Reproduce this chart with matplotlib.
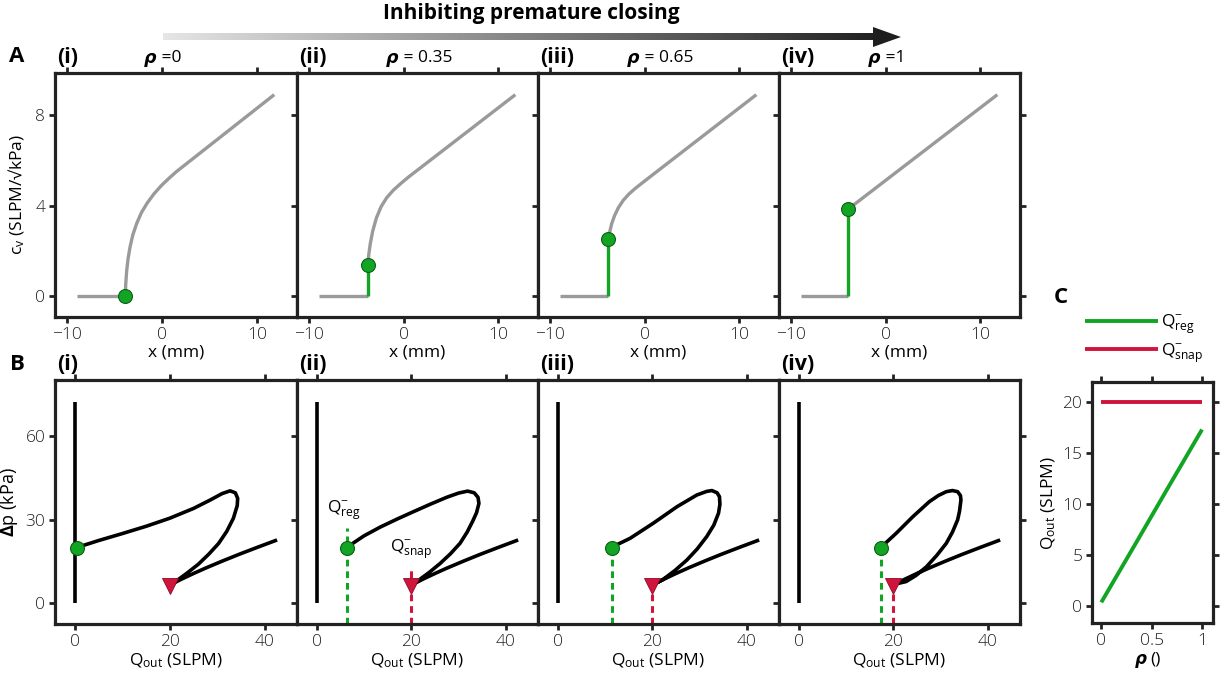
import numpy as np
import matplotlib
matplotlib.use("Agg")
import matplotlib.pyplot as plt
from matplotlib.patches import Polygon
from matplotlib.transforms import blended_transform_factory

FONT = "Open Sans"
plt.rcParams["font.family"] = [FONT, "DejaVu Sans"]
plt.rcParams["mathtext.fontset"] = "custom"
plt.rcParams["mathtext.rm"] = FONT
plt.rcParams["mathtext.it"] = FONT + ":italic"
plt.rcParams["mathtext.bf"] = FONT + ":bold"
plt.rcParams["mathtext.fallback"] = "stixsans"

# ---------------- data ----------------
rho_values = [0, 0.35, 0.65, 1]
rho_texts = [" =0", " = 0.35", " = 0.65", " =1"]
panel_tags = ["(i)", "(ii)", "(iii)", "(iv)"]

# (A) valve coefficient c_v versus plunger displacement x
x_flat_start = -9.0
x_close = [-3.9, -3.8, -3.85, -3.95]
cv_close = [0.0, 1.37, 2.5, 3.85]

cv_x_i = [-3.9, -3.85, -3.75, -3.6, -3.4, -3.1, -2.7, -2.2, -1.6, -0.9, -0.1, 0.7, 1.5, 11.8]
cv_y_i = [0.0, 0.5, 1.1, 1.65, 2.15, 2.7, 3.2, 3.68, 4.1, 4.5, 4.88, 5.2, 5.5, 8.9]
cv_x_ii = [-3.8, -3.7, -3.55, -3.3, -2.9, -2.4, -1.8, -1.1, -0.3, 0.5, 11.8]
cv_y_ii = [1.37, 1.85, 2.3, 2.85, 3.45, 3.95, 4.35, 4.68, 4.98, 5.26, 8.9]
cv_x_iii = [-3.85, -3.7, -3.5, -3.2, -2.8, -2.3, -1.7, -1.0, -0.3, 0.5, 11.8]
cv_y_iii = [2.5, 2.85, 3.2, 3.55, 3.9, 4.22, 4.5, 4.76, 4.99, 5.25, 8.9]
cv_x_iv = [-3.95, 11.8]
cv_y_iv = [3.85, 8.9]

# (B) pressure drop versus outlet flow
q_closed = [0, 0]
dp_closed = [0, 72]

q_reg = [0.4, 6.3, 11.4, 17.3]
dp_reg = [20, 20, 20, 20]
q_snap = [20, 20, 20, 20]
dp_snap = [6.3, 6.3, 6.3, 6.3]

q_i = [0.4, 5, 10, 15, 20, 25, 28.5, 31, 32.7, 33.8, 34.3, 34.2, 33.4, 32.0, 30.3, 28.2, 26.0, 23.6, 21.6, 20.4]
dp_i = [20, 22.5, 25, 27.6, 30.5, 34.0, 37.0, 39.3, 40.3, 39.6, 37.6, 35.0, 30.5, 25.8, 21.5, 17.6, 14.0, 10.8, 8.3, 6.9]
q_ii = [6.3, 10, 13.4, 17, 20.4, 24, 27.5, 30, 31.9, 33.3, 34.1, 34.3, 33.8, 33.0, 31.8, 30.3, 28.3, 26.1, 23.8, 21.8, 20.4]
dp_ii = [20, 24.2, 27.3, 30.2, 32.8, 35.5, 38, 39.5, 40.2, 39.6, 38, 35.8, 32.5, 29.5, 25.5, 21.5, 17.8, 14.3, 11.1, 8.6, 6.9]
q_iii = [11.4, 15.3, 20.2, 25.2, 29.4, 31.5, 32.6, 33.7, 34.2, 34.3, 34.0, 33.0, 31.5, 29.5, 27.3, 24.8, 22.3, 20.4]
dp_iii = [20.1, 23.3, 28.7, 34.6, 38.8, 40.1, 40.4, 39.6, 38.2, 35.5, 32.3, 28, 23.9, 19.5, 15.5, 11.8, 8.6, 6.9]
q_iv = [17.4, 20.6, 24.1, 27.6, 29.5, 31.2, 32.5, 33.6, 34.2, 34.3, 34.0, 33.6, 32.5, 31.2, 29.2, 27.0, 24.8, 22.7, 20.4]
dp_iv = [20.1, 25.1, 31, 36.4, 38.6, 40, 40.4, 40, 38.6, 37, 33, 29.9, 25.5, 21.5, 17.2, 13.1, 10, 7.8, 6.9]

q_low = [20.4, 22.5, 25, 27.5, 31, 34.5, 38.5, 42.6]
dp_low = [6.9, 8.7, 10.7, 12.6, 15.1, 17.5, 20.1, 22.7]

# (C) regulation and snap-through flows versus rho
q_reg_c = q_reg
q_snap_c = q_snap

# ---------------- style ----------------
GRAY = "#9a9a9a"
GREEN = "#12a524"
GREEN_EDGE = "#0b5e14"
RED = "#d0143c"
SPINE = "#222222"
TICK_FS = 12.5
LABEL_FS = 12.5

W, H = 1231, 677
fig = plt.figure(figsize=(W / 100, H / 100), dpi=100)


def px_axes(left, top, right, bottom, **kw):
    return fig.add_axes([left / W, 1 - bottom / H, (right - left) / W, (bottom - top) / H], **kw)


def style(ax):
    for s in ax.spines.values():
        s.set_linewidth(2.3)
        s.set_color(SPINE)
    ax.tick_params(direction="out", length=4, width=2, color=SPINE,
                   top=True, right=True, labeltop=False, labelright=False,
                   labelsize=TICK_FS, pad=3, labelcolor="#222")
    for lab in ax.get_xticklabels() + ax.get_yticklabels():
        lab.set_fontweight("light")


lefts = [55, 297, 538, 779]
rights = [297, 538, 779, 1020]

cv_curves = [(cv_x_i, cv_y_i), (cv_x_ii, cv_y_ii), (cv_x_iii, cv_y_iii), (cv_x_iv, cv_y_iv)]
dp_curves = [(q_i, dp_i), (q_ii, dp_ii), (q_iii, dp_iii), (q_iv, dp_iv)]

for k in range(4):
    # ---------- row A ----------
    ax = px_axes(lefts[k], 73, rights[k], 317)
    ax.set_xlim(-11.3, 14.2)
    ax.set_ylim(-0.93, 9.86)
    ax.set_xticks([-10, 0, 10])
    ax.set_yticks([0, 4, 8])
    if k > 0:
        ax.set_yticklabels([])
    style(ax)
    ax.plot([x_flat_start, x_close[k]], [0, 0], color=GRAY, lw=2.4, solid_capstyle="butt")
    cx, cy = cv_curves[k]
    ax.plot(cx, cy, color=GRAY, lw=2.4, solid_capstyle="butt", solid_joinstyle="round")
    if cv_close[k] > 0:
        ax.plot([x_close[k], x_close[k]], [0, cv_close[k]], color=GREEN, lw=2.4,
                solid_capstyle="butt")
    ax.plot([x_close[k]], [cv_close[k]], "o", ms=10, mfc=GREEN, mec=GREEN_EDGE, mew=0.8, zorder=5)
    ax.set_xlabel("x (mm)", fontsize=LABEL_FS, labelpad=1)
    if k == 0:
        ax.set_ylabel("c$_\\mathregular{v}$ (SLPM/√kPa)", fontsize=LABEL_FS, labelpad=6)
    tr = blended_transform_factory(ax.transData, ax.transAxes)
    ax.text(-0.6, 1.062, "ρ", transform=tr, ha="right", va="center", fontsize=12.5,
            family="DejaVu Sans", weight="bold", style="italic")
    ax.text(-0.5, 1.062, rho_texts[k], transform=tr, ha="left", va="center", fontsize=12.5)
    ax.text(0.008, 1.062, panel_tags[k], transform=ax.transAxes, ha="left", va="center",
            fontsize=15.5, weight="bold")

    # ---------- row B ----------
    bx = px_axes(lefts[k], 380, rights[k], 624)
    bx.set_xlim(-4.2, 46.8)
    bx.set_ylim(-7.4, 80)
    bx.set_xticks([0, 20, 40])
    bx.set_yticks([0, 30, 60])
    if k > 0:
        bx.set_yticklabels([])
    style(bx)
    bx.plot(q_closed, dp_closed, color="black", lw=2.6, solid_capstyle="butt")
    qx, qy = dp_curves[k]
    bx.plot(list(qx) + q_low[1:], list(qy) + dp_low[1:], color="black", lw=2.6,
            solid_capstyle="butt", solid_joinstyle="round")
    if k > 0:
        top_g = 26.9 if k == 1 else dp_reg[k]
        top_r = 13.1 if k == 1 else dp_snap[k]
        bx.plot([q_reg[k], q_reg[k]], [-7.4, top_g], color=GREEN, lw=2.2, dashes=(2.2, 1.6))
        bx.plot([q_snap[k], q_snap[k]], [-7.4, top_r], color=RED, lw=2.2, dashes=(2.2, 1.6))
    bx.plot([q_reg[k]], [dp_reg[k]], "o", ms=10, mfc=GREEN, mec=GREEN_EDGE, mew=0.8, zorder=5)
    bx.plot([q_snap[k]], [dp_snap[k]], "v", ms=11, mfc=RED, mec="#8a0c26", mew=0.6, zorder=5)
    if k == 1:
        bx.text(2.1, 32.4, "Q$^{-}_{\\mathregular{reg}}$", fontsize=12.5, ha="left", va="baseline")
        bx.text(15.5, 18.5, "Q$^{-}_{\\mathregular{snap}}$", fontsize=12.5, ha="left", va="baseline")
    bx.set_xlabel("Q$_\\mathregular{out}$ (SLPM)", fontsize=LABEL_FS, labelpad=1)
    if k == 0:
        bx.set_ylabel("$\\mathbf{\\Delta}$p (kPa)", fontsize=13, labelpad=4)
    bx.text(0.008, 1.062, panel_tags[k], transform=bx.transAxes, ha="left", va="center",
            fontsize=15.5, weight="bold")

# ---------- panel C ----------
cx_ax = px_axes(1092, 382, 1213, 623)
cx_ax.set_xlim(-0.092, 1.109)
cx_ax.set_ylim(-1.62, 21.95)
cx_ax.set_xticks([0, 0.5, 1])
cx_ax.set_xticklabels(["0", "0.5", "1"])
cx_ax.set_yticks([0, 5, 10, 15, 20])
style(cx_ax)
l1, = cx_ax.plot(rho_values, q_reg_c, color=GREEN, lw=2.8, solid_capstyle="butt",
                 label="Q$^{-}_{\\mathregular{reg}}$")
l2, = cx_ax.plot(rho_values, q_snap_c, color=RED, lw=2.8, solid_capstyle="butt",
                 label="Q$^{-}_{\\mathregular{snap}}$")
cx_ax.set_ylabel("Q$_\\mathregular{out}$ (SLPM)", fontsize=LABEL_FS, labelpad=3)
cx_ax.legend(handles=[l1, l2], loc="lower left", bbox_to_anchor=(1085 / W, 1 - 365 / H),
             bbox_transform=fig.transFigure, frameon=False, fontsize=12.5,
             handlelength=4.2, handletextpad=0.2, labelspacing=0.3, borderpad=0,
             borderaxespad=0)

# x label of panel C: bold-italic rho followed by empty unit brackets
fig.text(1147 / W, 1 - 659 / H, "ρ", ha="right", va="center", fontsize=12,
         family="DejaVu Sans", weight="bold", style="italic")
fig.text(1150 / W, 1 - 659 / H, "()", ha="left", va="center", fontsize=LABEL_FS)

# ---------- overlay: arrow, title, panel letters ----------
ov = fig.add_axes([0, 0, 1, 1], zorder=-1)
ov.axis("off")
grad = np.linspace(0.9, 0.13, 512)[None, :]
ov.imshow(grad, cmap="gray", vmin=0, vmax=1, extent=[163, 876, 40.5, 33.5],
          aspect="auto", interpolation="bilinear")
ov.add_patch(Polygon([[873, 27], [901, 37], [873, 47]], closed=True,
                     facecolor="#1e1e1e", edgecolor="none"))
ov.set_xlim(0, W)
ov.set_ylim(H, 0)

fig.text(531 / W, 1 - 14 / H, "Inhibiting premature closing", ha="center", va="center",
         fontsize=15, weight="bold")
for letter, (px, py) in {"A": (17, 57), "B": (17, 364), "C": (1061, 297)}.items():
    fig.text(px / W, 1 - py / H, letter, ha="center", va="center", fontsize=16, weight="bold")

fig.savefig("out.png", dpi=100, facecolor="white")
